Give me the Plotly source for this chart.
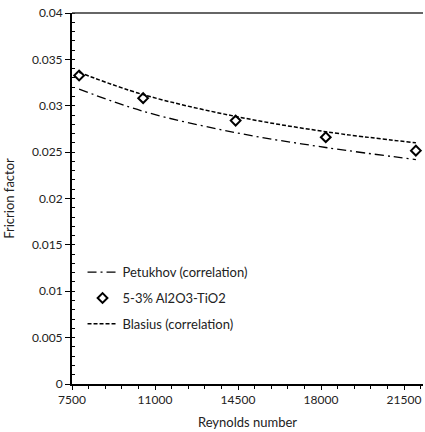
import plotly.graph_objects as go

reynolds = [7800, 10500, 14400, 18200, 22000]
f_data = [0.03326, 0.03082, 0.0284, 0.02661, 0.02516]
f_blasius = [0.0336, 0.0312, 0.02885, 0.0272, 0.0260]
f_petukhov = [0.0318, 0.0294, 0.0271, 0.0255, 0.0242]

FONT = "Lato"

fig = go.Figure()
fig.add_trace(go.Scatter(x=reynolds, y=f_petukhov, mode="lines", name="Petukhov (correlation)",
                         line=dict(color="black", width=1.3, dash="9px,4px,2px,4px", shape="spline"),
                         legendgroup="a"))
fig.add_trace(go.Scatter(x=reynolds, y=f_data, mode="markers", name="5-3% Al2O3-TiO2",
                         marker=dict(symbol="diamond-open", size=7.5, color="black", line=dict(width=2, color="black")),
                         legendgroup="b"))
fig.add_trace(go.Scatter(x=reynolds, y=f_blasius, mode="lines", name="Blasius (correlation)",
                         line=dict(color="black", width=1.5, dash="4px,2px", shape="spline"),
                         legendgroup="c"))

fig.update_layout(
    width=425, height=432,
    margin=dict(l=72, r=2, t=13, b=48),
    paper_bgcolor="white", plot_bgcolor="white",
    font=dict(family=FONT, size=12, color="#222"),
    showlegend=True,
    legend=dict(x=0.03, y=0.342, xanchor="left", yanchor="top", bgcolor="rgba(0,0,0,0)",
                tracegroupgap=6, font=dict(size=13, color="#222")),
    xaxis=dict(range=[7500, 22300], tick0=7500, dtick=3500, tickformat="d", showgrid=False, zeroline=False,
               showline=True, linecolor="black", linewidth=2, ticks="outside", ticklen=4,
               tickcolor="black", tickwidth=1,
               minor=dict(dtick=700, tick0=7500, ticks="outside", ticklen=3, tickcolor="black"),
               title=dict(text="Reynolds number", font=dict(size=13), standoff=11),
               tickfont=dict(size=12)),
    yaxis=dict(range=[0, 0.04], dtick=0.005, showgrid=False, zeroline=False,
               showline=True, linecolor="black", linewidth=2, ticks="outside", ticklen=5,
               tickcolor="black", tickwidth=1,
               minor=dict(dtick=0.001, ticks="inside", ticklen=3, tickcolor="black"),
               title=dict(text="Fricrion factor", font=dict(size=13), standoff=14),
               tickfont=dict(size=12)),
)
fig.add_shape(type="line", xref="paper", yref="paper", x0=0, x1=1, y0=1, y1=1,
              line=dict(color="#333", width=1.5))

fig.write_html("out.html")
